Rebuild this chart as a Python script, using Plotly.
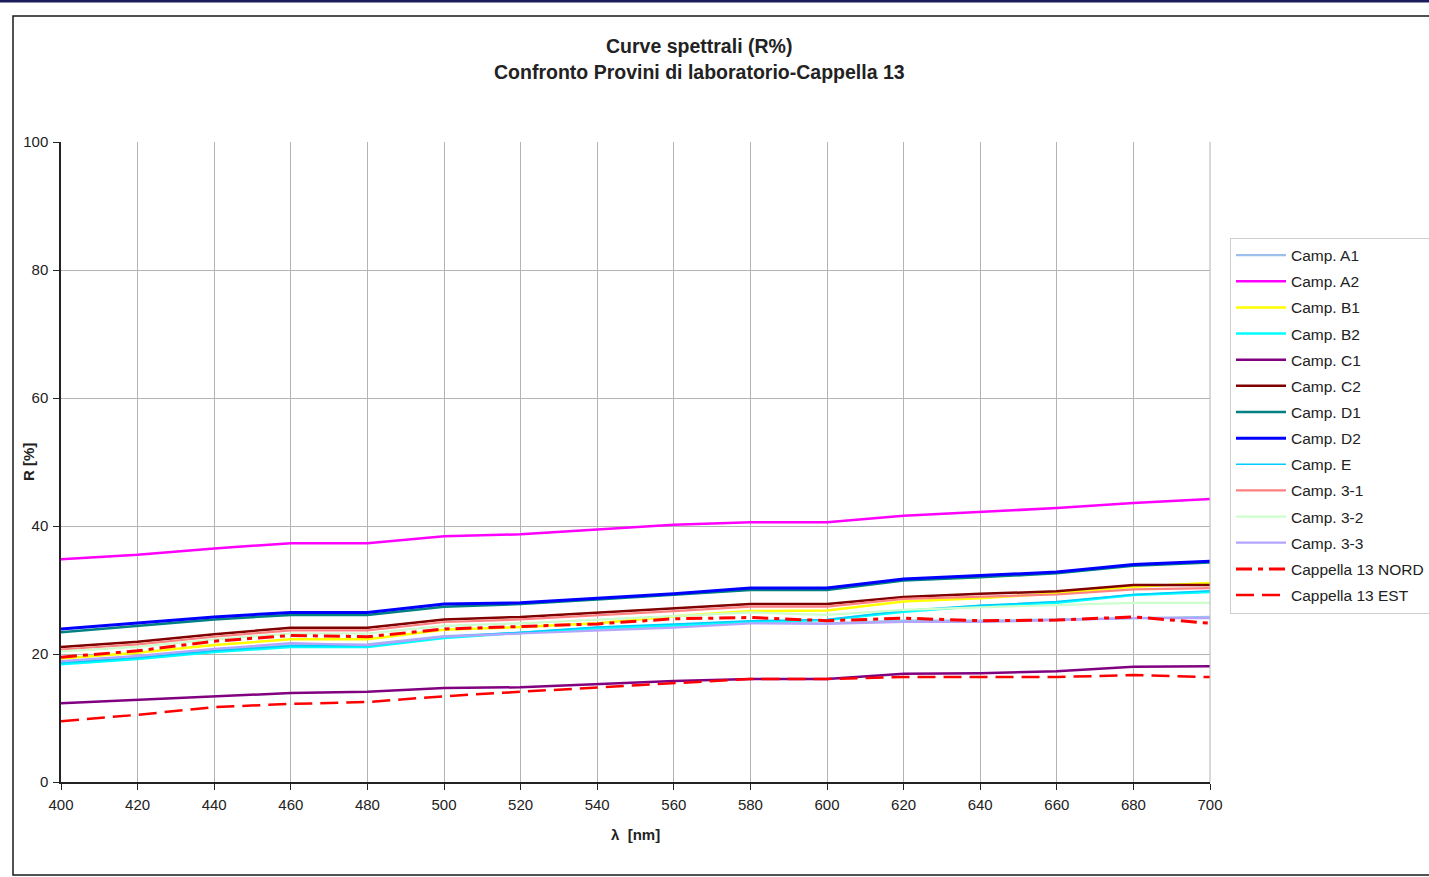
import plotly.graph_objects as go

# Wavelengths (nm)
wavelength = [400, 420, 440, 460, 480, 500, 520, 540, 560, 580, 600, 620, 640, 660, 680, 700]

# Spectral reflectance R (%) for each sample
camp_a1 = [18.7, 19.5, 20.6, 21.4, 21.5, 22.8, 23.3, 23.9, 24.3, 24.9, 24.8, 25.2, 25.2, 25.4, 25.6, 25.8]
camp_a2 = [34.8, 35.5, 36.5, 37.3, 37.3, 38.4, 38.7, 39.4, 40.2, 40.6, 40.6, 41.6, 42.2, 42.8, 43.6, 44.2]
camp_b1 = [19.3, 20.2, 21.4, 22.3, 22.3, 23.8, 24.2, 24.8, 25.9, 26.7, 26.8, 28.2, 28.7, 29.5, 30.5, 31.1]
camp_b2 = [18.4, 19.2, 20.3, 21.1, 21.1, 22.5, 23.3, 24.1, 24.5, 25.0, 25.3, 26.6, 27.5, 28.0, 29.2, 29.7]
camp_c1 = [12.3, 12.8, 13.4, 13.9, 14.1, 14.7, 14.8, 15.3, 15.8, 16.1, 16.1, 16.9, 17.0, 17.3, 18.0, 18.1]
camp_c2 = [21.1, 21.9, 23.1, 24.1, 24.1, 25.4, 25.8, 26.5, 27.1, 27.8, 27.8, 28.9, 29.4, 29.8, 30.8, 30.8]
camp_d1 = [23.4, 24.4, 25.4, 26.1, 26.1, 27.4, 27.8, 28.5, 29.2, 30.0, 30.0, 31.5, 32.0, 32.6, 33.8, 34.3]
camp_d2 = [23.9, 24.8, 25.8, 26.5, 26.5, 27.8, 28.0, 28.7, 29.4, 30.3, 30.3, 31.7, 32.2, 32.8, 34.0, 34.5]
camp_e = [18.6, 19.4, 20.5, 21.3, 21.3, 22.7, 23.4, 24.2, 24.7, 25.2, 25.4, 26.8, 27.6, 28.2, 29.3, 29.9]
camp_3_1 = [20.7, 21.5, 22.7, 23.7, 23.7, 25.0, 25.4, 26.0, 26.7, 27.4, 27.4, 28.6, 29.0, 29.3, 30.1, 30.3]
camp_3_2 = [20.4, 21.1, 22.3, 23.2, 23.2, 24.4, 24.8, 25.4, 26.0, 26.5, 26.1, 26.9, 27.3, 27.7, 28.0, 28.0]
camp_3_3 = [18.9, 19.7, 20.8, 21.7, 21.4, 22.7, 23.2, 23.6, 24.1, 24.8, 24.7, 25.0, 25.0, 25.3, 25.6, 25.6]
cappella_nord = [19.5, 20.5, 22.0, 22.9, 22.7, 23.9, 24.3, 24.7, 25.5, 25.7, 25.2, 25.6, 25.2, 25.3, 25.8, 24.8]
cappella_est = [9.5, 10.5, 11.7, 12.2, 12.5, 13.4, 14.1, 14.8, 15.5, 16.1, 16.1, 16.4, 16.4, 16.4, 16.7, 16.4]

x_ticks = [400, 420, 440, 460, 480, 500, 520, 540, 560, 580, 600, 620, 640, 660, 680, 700]
y_ticks = [0, 20, 40, 60, 80, 100]

series = [
    ("Camp. A1", camp_a1, "#9cc0ec", 2.2, "solid"),
    ("Camp. A2", camp_a2, "#ff00ff", 2.5, "solid"),
    ("Camp. B1", camp_b1, "#ffff00", 2.5, "solid"),
    ("Camp. B2", camp_b2, "#00ffff", 2.5, "solid"),
    ("Camp. C1", camp_c1, "#800080", 2.5, "solid"),
    ("Camp. C2", camp_c2, "#800000", 2.5, "solid"),
    ("Camp. D1", camp_d1, "#008080", 2.5, "solid"),
    ("Camp. D2", camp_d2, "#0000ff", 3.0, "solid"),
    ("Camp. E", camp_e, "#00ccff", 1.5, "solid"),
    ("Camp. 3-1", camp_3_1, "#ff8080", 2.2, "solid"),
    ("Camp. 3-2", camp_3_2, "#ccffcc", 2.2, "solid"),
    ("Camp. 3-3", camp_3_3, "#b4a4ff", 2.2, "solid"),
    ("Cappella 13 NORD", cappella_nord, "#ff0000", 3.0, "16px,6px,5px,6px"),
    ("Cappella 13 EST", cappella_est, "#ff0000", 2.5, "18px,8px"),
]

fig = go.Figure()
for name, vals, color, width, dash in series:
    fig.add_trace(go.Scatter(
        x=wavelength, y=vals, name=name, mode="lines",
        legendgroup=name,
        line=dict(color=color, width=width, dash=dash),
    ))

W, H = 1429, 877
L, R, T, B = 61, 1210, 142, 782  # plot area edges in pixels


def px(xp):
    return (xp - L) / (R - L)


def py(yp):
    return (B - yp) / (B - T)


font_family = "Liberation Sans, Arial, sans-serif"

fig.update_layout(
    width=W, height=H,
    margin=dict(l=L, r=W - R, t=T, b=H - B, pad=0, autoexpand=False),
    paper_bgcolor="white",
    plot_bgcolor="white",
    font=dict(family=font_family, size=15, color="#222222"),
    showlegend=True,
    legend=dict(
        x=px(1230), y=py(237.5), xanchor="left", yanchor="top",
        bgcolor="white", bordercolor="#cfcfcf", borderwidth=1,
        font=dict(size=15.5, color="#222222"),
        tracegroupgap=3,
        itemwidth=50,
    ),
    xaxis=dict(
        range=[400, 700], tickvals=x_ticks, ticktext=[str(v) for v in x_ticks],
        showgrid=True, gridcolor="#b4b4b4", gridwidth=1,
        showline=True, linecolor="#222222", linewidth=1.5,
        ticks="outside", ticklen=6, tickcolor="#222222",
        zeroline=False, tickfont=dict(size=15), ticklabelstandoff=2,
    ),
    yaxis=dict(
        range=[0, 100], tickvals=y_ticks,
        showgrid=True, gridcolor="#b4b4b4", gridwidth=1,
        showline=True, linecolor="#222222", linewidth=1.5,
        ticks="outside", ticklen=6, tickcolor="#222222",
        zeroline=False, tickfont=dict(size=15), ticklabelstandoff=2,
    ),
    shapes=[
        # outer frame
        dict(type="rect", xref="paper", yref="paper",
             x0=px(13), x1=px(1432), y0=py(875), y1=py(16),
             line=dict(color="#1a1a1a", width=1.5), fillcolor="rgba(0,0,0,0)"),
        # thin band along the top edge
        dict(type="rect", xref="paper", yref="paper",
             x0=px(0), x1=px(1429), y0=py(2.5), y1=py(0),
             line=dict(width=0), fillcolor="#1c1c5c"),
        # right border of plot area
        dict(type="line", xref="paper", yref="paper",
             x0=1, x1=1, y0=0, y1=1, line=dict(color="#b4b4b4", width=1)),
    ],
    annotations=[
        dict(text="<b>Curve spettrali (R%)</b>", xref="paper", yref="paper",
             x=px(699), y=py(46), showarrow=False, xanchor="center", yanchor="middle",
             font=dict(size=19.5, color="#222222")),
        dict(text="<b>Confronto Provini di laboratorio-Cappella 13</b>", xref="paper", yref="paper",
             x=px(699), y=py(72), showarrow=False, xanchor="center", yanchor="middle",
             font=dict(size=19.5, color="#222222")),
        dict(text="<b>λ  [nm]</b>", xref="paper", yref="paper",
             x=px(635), y=py(834), showarrow=False, xanchor="center", yanchor="middle",
             font=dict(size=15, color="#222222")),
        dict(text="<b>R [%]</b>", xref="paper", yref="paper",
             x=px(28), y=py(462), showarrow=False, xanchor="center", yanchor="middle",
             textangle=-90, font=dict(size=15, color="#222222")),
    ],
)

fig.write_html("out.html")
